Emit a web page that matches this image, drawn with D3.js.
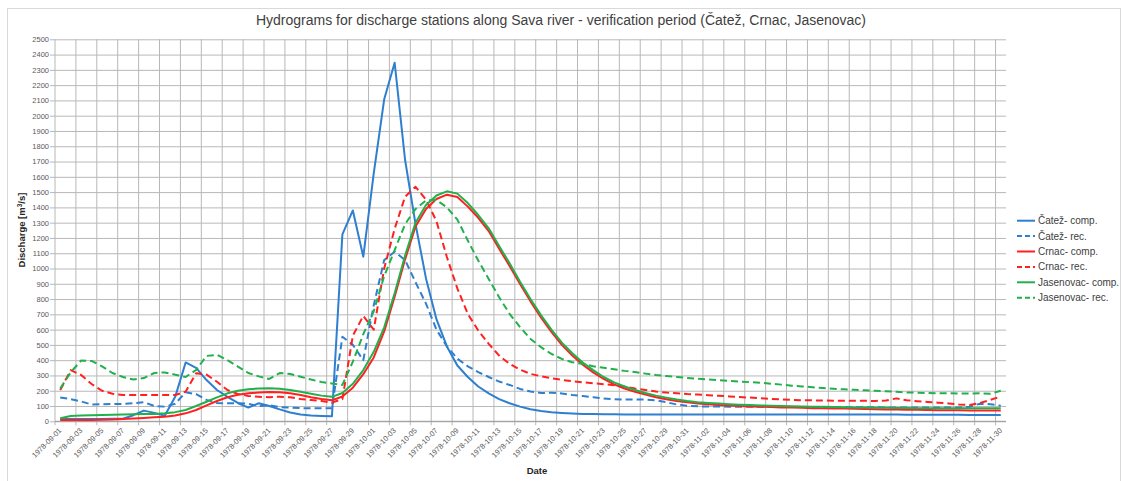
<!DOCTYPE html>
<html>
<head>
<meta charset="utf-8">
<script src="https://cdn.jsdelivr.net/npm/d3@7"></script>
<style>
  body { margin: 0; background: #fff; }
  text { font-family: "Liberation Sans", Arial, sans-serif; }
</style>
</head>
<body>
<div id="chart"></div>
<script>
// daily categories 1978-09-01 .. 1978-11-30, labelled every second day
const days = d3.timeDay.range(new Date(1978, 8, 1), new Date(1978, 11, 1)).map(d3.timeFormat("%Y-%m-%d"));
const tickLabels = [
  "1978-09-01","1978-09-03","1978-09-05","1978-09-07","1978-09-09","1978-09-11","1978-09-13","1978-09-15",
  "1978-09-17","1978-09-19","1978-09-21","1978-09-23","1978-09-25","1978-09-27","1978-09-29","1978-10-01",
  "1978-10-03","1978-10-05","1978-10-07","1978-10-09","1978-10-11","1978-10-13","1978-10-15","1978-10-17",
  "1978-10-19","1978-10-21","1978-10-23","1978-10-25","1978-10-27","1978-10-29","1978-10-31","1978-11-02",
  "1978-11-04","1978-11-06","1978-11-08","1978-11-10","1978-11-12","1978-11-14","1978-11-16","1978-11-18",
  "1978-11-20","1978-11-22","1978-11-24","1978-11-26","1978-11-28","1978-11-30"
];
const yTicks = d3.range(0, 2501, 100);

// discharge [m3/s], one value per day
const catezComp = [15,15,15,15,15,17,17,40,70,55,36,160,385,350,270,205,160,120,90,118,
  100,78,58,45,38,35,33,1223,1380,1077,1623,2107,2347,1710,1290,935,668,490,365,290,
  228,183,145,118,96,79,68,60,55,51,48,47,46,46,45,45,45,45,45,45,
  45,45,45,45,45,45,45,45,45,45,45,44,44,44,44,44,44,44,44,44,
  44,43,43,43,43,43,43,42,42,42,42];
const catezRec = [156,145,130,110,112,113,113,118,125,100,96,115,190,178,140,120,118,118,115,100,
  105,92,90,86,85,85,85,553,500,400,760,1055,1110,1055,910,770,600,490,410,360,
  322,290,260,238,212,195,185,187,182,172,165,158,150,145,142,142,142,138,125,110,
  102,98,97,97,96,96,95,95,95,94,94,94,93,93,93,92,92,92,92,91,
  91,91,91,90,90,90,90,95,115,112,102];
const crnacComp = [8,8,8,9,10,12,15,18,22,26,30,38,52,74,104,133,157,174,183,188,
  192,190,183,172,158,146,137,162,220,308,418,588,816,1060,1275,1390,1455,1483,1468,1405,
  1332,1245,1129,1016,898,785,680,585,500,430,370,320,277,242,215,193,175,158,145,133,
  124,116,111,107,103,100,97,95,93,91,90,88,86,85,84,83,82,80,79,78,
  77,76,75,74,73,72,72,71,71,70,70];
const crnacRec = [204,335,303,244,200,180,172,172,172,172,172,172,194,314,305,259,205,179,166,161,
  157,161,157,146,139,133,122,145,560,690,600,1000,1260,1470,1535,1450,1310,1075,870,703,
  594,507,430,376,338,310,295,282,271,262,255,249,243,236,227,215,205,195,188,183,
  178,175,171,167,163,159,155,151,147,143,140,138,137,136,135,135,135,134,133,136,
  150,138,132,127,122,117,110,107,120,140,162];
const jasenovacComp = [20,35,38,40,42,43,45,46,48,48,52,60,74,100,128,157,183,200,209,215,
  217,213,205,194,181,168,160,185,245,335,455,615,838,1085,1300,1415,1478,1505,1490,1428,
  1350,1263,1147,1034,914,800,695,600,515,445,385,335,290,255,228,205,185,168,155,143,
  133,125,120,116,112,109,106,104,102,100,98,97,96,95,93,92,91,90,89,88,
  87,87,86,86,86,86,85,85,85,85,85];
const jasenovacRec = [215,320,398,395,360,316,290,273,283,316,320,305,290,336,428,435,400,358,316,294,
  277,316,310,292,273,257,247,238,390,570,720,950,1120,1290,1390,1445,1448,1400,1320,1183,
  1052,932,812,703,616,539,485,441,408,386,376,360,350,340,330,322,312,303,296,290,
  284,278,274,270,265,260,256,252,246,240,233,228,223,218,213,209,206,203,200,197,
  193,189,187,185,184,183,182,182,183,180,200];

const series = [
  {name: "Čatež- comp.", values: catezComp, color: "#2e7fd0", dash: null},
  {name: "Čatež- rec.", values: catezRec, color: "#2e7fd0", dash: "7,4"},
  {name: "Crnac- comp.", values: crnacComp, color: "#ff2020", dash: null},
  {name: "Crnac- rec.", values: crnacRec, color: "#ff2020", dash: "7,4"},
  {name: "Jasenovac- comp.", values: jasenovacComp, color: "#22b04c", dash: null},
  {name: "Jasenovac- rec.", values: jasenovacRec, color: "#22b04c", dash: "7,4"}
];

const W = 1122, H = 481;
const plot = {left: 55, right: 1006, top: 39.3, bottom: 421.3};

const svg = d3.select("#chart").append("svg")
  .attr("width", W)
  .attr("height", H);

svg.append("rect")
  .attr("x", 7.5).attr("y", 8.5)
  .attr("width", 1113).attr("height", 480)
  .attr("fill", "#fff")
  .attr("stroke", "#d9d9d9");

const x = d3.scaleBand().domain(days).range([plot.left, plot.right]);
const xc = d => x(d) + x.bandwidth() / 2;
const y = d3.scaleLinear().domain([0, 2500]).range([plot.bottom, plot.top]);

// horizontal gridlines + y labels
const yAxis = svg.append("g")
  .attr("transform", `translate(${plot.left},0)`)
  .call(d3.axisLeft(y).tickValues(yTicks).tickFormat(d3.format("d"))
    .tickSizeInner(-(plot.right - plot.left)).tickSizeOuter(0).tickPadding(6));
yAxis.select(".domain").remove();
yAxis.selectAll("line").attr("x1", -5).attr("stroke", "#b8b8b8");
yAxis.selectAll("text").attr("fill", "#595959").style("font-size", "7.5px");

// vertical gridlines at every second category boundary
svg.append("g").selectAll("line")
  .data(tickLabels)
  .enter().append("line")
  .attr("x1", d => x(d)).attr("x2", d => x(d))
  .attr("y1", plot.top).attr("y2", plot.bottom + 4)
  .attr("stroke", "#b8b8b8");

svg.append("line")
  .attr("x1", plot.left).attr("x2", plot.right)
  .attr("y1", plot.bottom).attr("y2", plot.bottom)
  .attr("stroke", "#9a9a9a");

// x labels
const xAxis = svg.append("g")
  .attr("transform", `translate(0,${plot.bottom})`)
  .call(d3.axisBottom(x).tickValues(tickLabels).tickSize(0));
xAxis.select(".domain").remove();
xAxis.selectAll("text")
  .attr("x", 0).attr("y", 0).attr("dy", "0.35em")
  .attr("transform", "translate(0,8) rotate(-45)")
  .style("text-anchor", "end")
  .style("font-size", "7.5px")
  .attr("fill", "#595959");

// lines
const line = d3.line()
  .x((d, i) => xc(days[i]))
  .y(d => y(d));

svg.append("g").selectAll("path")
  .data(series)
  .enter().append("path")
  .attr("d", d => line(d.values))
  .attr("fill", "none")
  .attr("stroke", d => d.color)
  .attr("stroke-width", 2)
  .attr("stroke-dasharray", d => d.dash)
  .attr("stroke-linejoin", "round");

// title + axis titles
svg.append("text")
  .attr("x", 561).attr("y", 25)
  .attr("text-anchor", "middle")
  .attr("fill", "#404040")
  .style("font-size", "14px")
  .text("Hydrograms for discharge stations along Sava river - verification period (Čatež, Crnac, Jasenovac)");

svg.append("text")
  .attr("transform", "translate(25,230) rotate(-90)")
  .attr("text-anchor", "middle")
  .attr("fill", "#262626")
  .style("font-size", "9.5px")
  .style("font-weight", "bold")
  .html("Discharge [m<tspan dy='-3' font-size='6.5px'>3</tspan><tspan dy='3'>/s]</tspan>");

svg.append("text")
  .attr("x", 537).attr("y", 474)
  .attr("text-anchor", "middle")
  .attr("fill", "#262626")
  .style("font-size", "9.5px")
  .style("font-weight", "bold")
  .text("Date");

// legend
const legend = svg.append("g").attr("transform", "translate(1017,220.7)");
const item = legend.selectAll("g")
  .data(series)
  .enter().append("g")
  .attr("transform", (d, i) => `translate(0,${i * 15.4})`);
item.append("line")
  .attr("x1", 0).attr("x2", 18)
  .attr("stroke", d => d.color)
  .attr("stroke-width", 2)
  .attr("stroke-dasharray", d => d.dash ? "5,3" : null);
item.append("text")
  .attr("x", 21).attr("dy", "0.35em")
  .attr("fill", "#404040")
  .style("font-size", "10px")
  .text(d => d.name);
</script>
</body>
</html>
